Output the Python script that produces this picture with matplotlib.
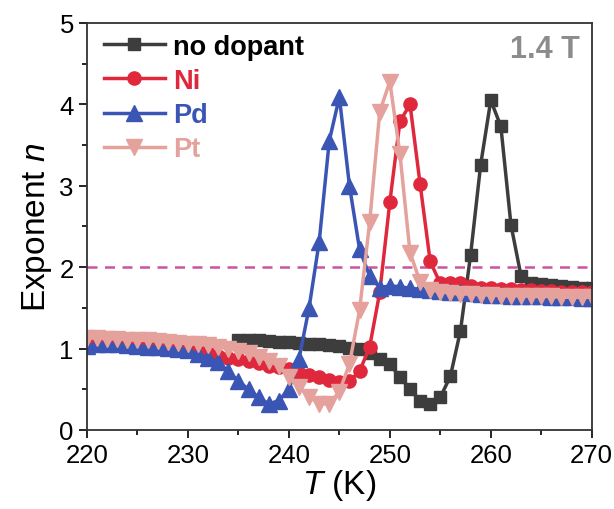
import matplotlib
matplotlib.use("Agg")
import matplotlib.pyplot as plt
from matplotlib.ticker import MultipleLocator

plt.rcParams['font.family'] = ['Liberation Sans', 'DejaVu Sans']
plt.rcParams['mathtext.fontset'] = 'custom'
plt.rcParams['mathtext.it'] = 'Liberation Sans:italic'
plt.rcParams['mathtext.rm'] = 'Liberation Sans'

# ---- data ----
T_nodop = list(range(235, 271))
n_nodop = [1.10, 1.10, 1.10, 1.09, 1.08, 1.08, 1.07, 1.06, 1.05, 1.04, 1.03, 1.01,
           0.99, 0.95, 0.87, 0.81, 0.65, 0.50, 0.36, 0.32, 0.40, 0.66, 1.22, 2.15,
           3.26, 4.05, 3.73, 2.52, 1.89, 1.81, 1.79, 1.78, 1.77, 1.76, 1.75, 1.74]

T_ni = list(range(220, 271))
n_ni = [1.08, 1.08, 1.08, 1.07, 1.07, 1.07, 1.06, 1.05, 1.05, 1.04, 1.02, 0.98,
        0.95, 0.91, 0.88, 0.87, 0.85, 0.82, 0.79, 0.77, 0.75, 0.70, 0.67, 0.65,
        0.61, 0.59, 0.60, 0.72, 1.02, 1.69, 2.80, 3.79, 4.00, 3.02, 2.07, 1.80,
        1.81, 1.80, 1.77, 1.75, 1.74, 1.73, 1.73, 1.72, 1.72, 1.71, 1.71, 1.70,
        1.70, 1.69, 1.69]

T_pd = list(range(220, 271))
n_pd = [1.03, 1.05, 1.06, 1.05, 1.04, 1.03, 1.02, 1.02, 1.01, 1.00, 0.98, 0.93,
        0.89, 0.83, 0.72, 0.60, 0.50, 0.40, 0.32, 0.36, 0.50, 0.87, 1.50, 2.31,
        3.55, 4.09, 3.00, 2.22, 1.89, 1.75, 1.77, 1.76, 1.74, 1.73, 1.72, 1.71,
        1.70, 1.69, 1.68, 1.67, 1.66, 1.66, 1.65, 1.65, 1.64, 1.64, 1.63, 1.63,
        1.63, 1.62, 1.62]

T_pt = list(range(220, 271))
n_pt = [1.13, 1.13, 1.12, 1.12, 1.11, 1.10, 1.10, 1.09, 1.08, 1.07, 1.06, 1.05,
        1.04, 1.02, 1.00, 0.97, 0.94, 0.90, 0.85, 0.79, 0.65, 0.53, 0.41, 0.32,
        0.32, 0.47, 0.81, 1.47, 2.55, 3.91, 4.28, 3.39, 2.18, 1.82, 1.72, 1.70,
        1.68, 1.67, 1.67, 1.66, 1.66, 1.65, 1.65, 1.65, 1.64, 1.64, 1.64, 1.63,
        1.63, 1.63, 1.63]

labels = ['no dopant', 'Ni', 'Pd', 'Pt']
colors = ['#3d3d3d', '#e0283c', '#3a55b4', '#e5a29c']
text_colors = ['#000000', '#e0283c', '#3a55b4', '#e5a29c']
markers = ['s', 'o', '^', 'v']
msizes = [8.5, 9.5, 11, 11]
xticks = [220, 230, 240, 250, 260, 270]
yticks = [0, 1, 2, 3, 4, 5]

fig = plt.figure(figsize=(6.14, 5.10), dpi=100)
ax = fig.add_axes([0.1417, 0.155, 0.822, 0.798])

series = [(T_nodop, n_nodop), (T_ni, n_ni), (T_pd, n_pd), (T_pt, n_pt)]
for (x, y), lab, c, m, ms in zip(series, labels, colors, markers, msizes):
    ax.plot(x, y, color=c, marker=m, markersize=ms, linewidth=2.5, label=lab)

ax.axhline(2, color='#c9559f', linestyle=(0, (4, 3)), linewidth=1.8, zorder=0)

ax.set_xlim(220, 270)
ax.set_ylim(0, 5)
ax.set_xticks(xticks)
ax.set_yticks(yticks)
ax.xaxis.set_minor_locator(MultipleLocator(5))
ax.yaxis.set_minor_locator(MultipleLocator(0.5))
ax.tick_params(which='major', direction='out', length=6, width=1.2, labelsize=18.5)
ax.tick_params(which='minor', direction='out', length=3.5, width=1.2)
for s in ax.spines.values():
    s.set_linewidth(1.3)
    s.set_color('#333333')

ax.set_xlabel(r'$\mathit{T}$ (K)', fontsize=24, labelpad=0)
ax.set_ylabel(r'Exponent $\mathit{n}$', fontsize=24, labelpad=4)

ax.text(0.976, 0.972, '1.4 T', transform=ax.transAxes, ha='right', va='top',
        fontsize=22, fontweight='bold', color='#8c8c8c')

leg = ax.legend(loc='upper left', bbox_to_anchor=(0.012, 1.0), frameon=False,
                handlelength=2.25, borderaxespad=0.0, labelspacing=0.3,
                handletextpad=0.3, borderpad=0.4,
                prop={'weight': 'bold', 'size': 19.5})
for t, c in zip(leg.get_texts(), text_colors):
    t.set_color(c)

fig.savefig('out.png', dpi=100)
